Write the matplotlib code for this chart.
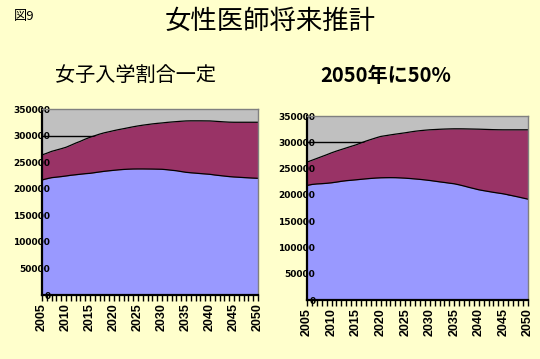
import numpy as np
import matplotlib
matplotlib.use("Agg")
import matplotlib.pyplot as plt

plt.rcParams['font.family'] = ['Noto Sans CJK JP', 'DejaVu Sans']

years = list(range(2005, 2051))

# left chart: 女子入学割合一定 (bottom area, and top of stacked total)
left_low = [216700, 219000, 221000, 222000, 223000, 224200, 225500, 226500, 227500, 228500,
            229200, 230500, 231800, 233000, 234000, 234900, 235800, 236500, 237000, 237300,
            237400, 237400, 237300, 237200, 237000, 236800, 236000, 235000, 234000, 232500,
            231100, 230200, 229500, 228700, 228000, 227300, 226000, 225000, 224000, 223000,
            222300, 221800, 221200, 220700, 220200, 219800]
left_total = [263800, 267000, 270500, 273000, 275500, 278200, 282000, 286000, 289500, 293500,
              297000, 300000, 303000, 305500, 307500, 309600, 311500, 313200, 315000, 316800,
              318400, 319800, 321000, 322200, 323200, 324000, 325000, 325800, 326500, 327200,
              327800, 328000, 328000, 328000, 327900, 327800, 327200, 326600, 326000, 325500,
              325300, 325300, 325300, 325300, 325300, 325300]

# right chart: 2050年に50%
right_low = [218100, 220000, 221000, 221500, 222200, 223200, 224500, 226000, 227200, 228000,
             228900, 229800, 230700, 231500, 232200, 232700, 232900, 233000, 232900, 232500,
             232000, 231300, 230500, 229700, 228700, 227600, 226300, 225000, 223800, 222500,
             221300, 219300, 217000, 214500, 212200, 209900, 208200, 206600, 205000, 203600,
             202200, 200300, 198300, 196300, 194200, 192100]
right_total = [262500, 266000, 269500, 273000, 276500, 280200, 283500, 286500, 289500, 292500,
               295400, 299000, 302500, 305500, 308500, 311300, 312800, 314300, 315700, 317000,
               318300, 319800, 321200, 322300, 323200, 324000, 324500, 325000, 325400, 325700,
               325900, 325900, 325800, 325600, 325400, 325200, 324900, 324600, 324300, 324100,
               324000, 324000, 324000, 324000, 324000, 324000]

BG = '#FFFFCC'
BLUE = '#9999FF'
RED = '#993366'
GRAY = '#C0C0C0'

fig = plt.figure(figsize=(5.4, 3.59), dpi=100, facecolor=BG)

fig.text(0.026, 0.955, '図9', fontsize=9.5, va='center', ha='left')
fig.text(0.5, 0.94, '女性医師将来推計', fontsize=19, va='center', ha='center')
fig.text(0.25, 0.79, '女子入学割合一定', fontsize=14.5, va='center', ha='center')
fig.text(0.715, 0.79, '2050年に50%', fontsize=14.5, fontweight='bold', va='center', ha='center')


def draw(ax, low, total):
    ax.set_facecolor(GRAY)
    x = np.array(years)
    ax.fill_between(x, 0, low, color=BLUE, lw=0, zorder=1.5)
    ax.fill_between(x, low, total, color=RED, lw=0, zorder=1.5)
    ax.plot(x, low, color='black', lw=0.9, zorder=1.8)
    ax.plot(x, total, color='black', lw=0.9, zorder=1.8)
    ax.set_xlim(2005, 2050)
    ax.set_ylim(0, 350000)
    ax.set_yticks(range(0, 350001, 50000))
    for v in range(50000, 350000, 50000):
        ax.axhline(v, color='black', lw=1, zorder=1)
    ax.set_xticks(years)
    ax.set_xticklabels([str(y) if y % 5 == 0 else '' for y in years],
                       rotation=90, fontsize=9, fontweight='bold',
                       family=['Liberation Sans', 'DejaVu Sans'])
    ax.tick_params(axis='x', direction='out', length=4, width=1, pad=2)
    ax.tick_params(axis='y', length=0, pad=-6, labelsize=6.5)
    for lab in ax.get_yticklabels():
        lab.set_fontweight('bold')
        lab.set_family('DejaVu Sans')
    for s in ('left', 'bottom'):
        ax.spines[s].set_color('black')
        ax.spines[s].set_linewidth(1.6)
    for s in ('top', 'right'):
        ax.spines[s].set_color('#808080')
        ax.spines[s].set_linewidth(1)


ax1 = fig.add_axes([0.0778, 0.178, 0.4, 0.518])
draw(ax1, left_low, left_total)
ax2 = fig.add_axes([0.5685, 0.164, 0.409, 0.5125])
draw(ax2, right_low, right_total)

fig.savefig('out.png', dpi=100, facecolor=BG)
